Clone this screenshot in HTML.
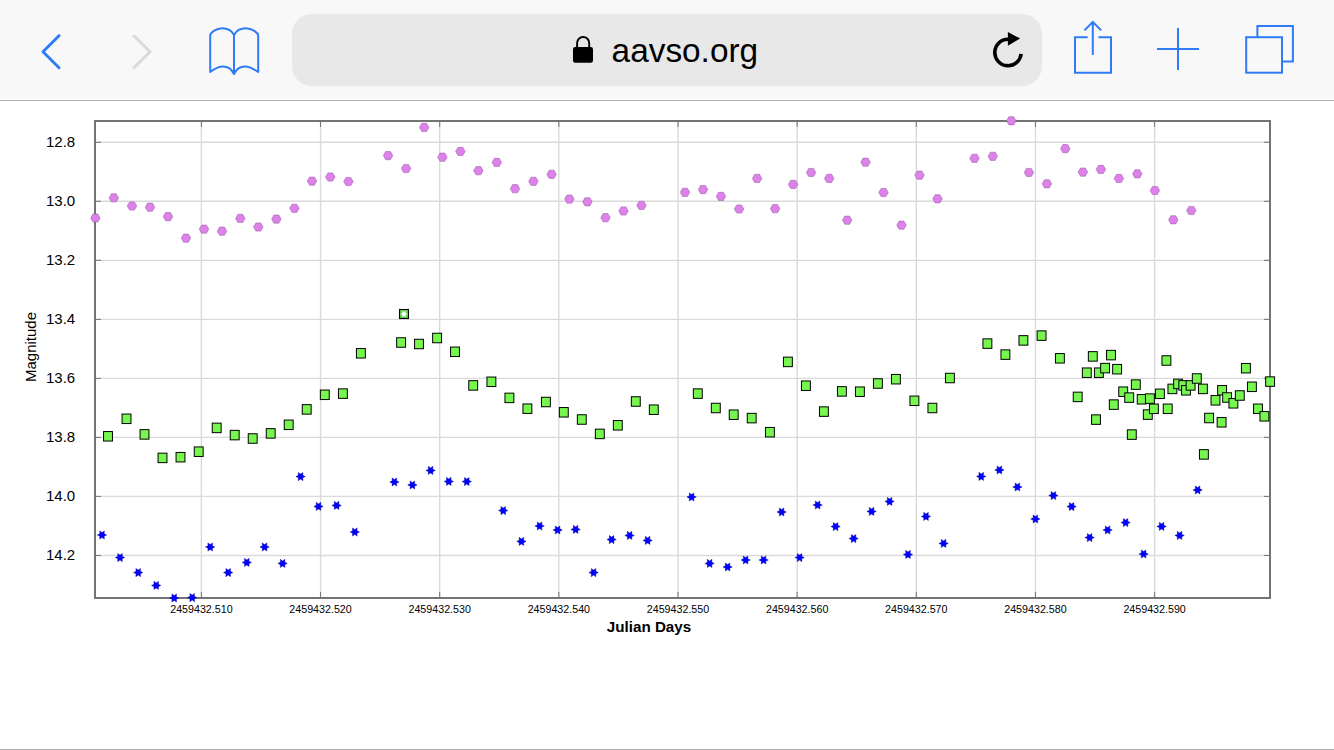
<!DOCTYPE html>
<html><head><meta charset="utf-8"><title>aavso.org</title>
<style>
html,body{margin:0;padding:0;width:1334px;height:750px;overflow:hidden;background:#fff;}
svg{position:absolute;left:0;top:0;display:block;}
text{font-family:"Liberation Sans",sans-serif;}
</style></head><body>
<svg width="1334" height="750" viewBox="0 0 1334 750">
<rect x="0" y="0" width="1334" height="99" fill="#f8f8f8"/>
<rect x="0" y="100" width="1334" height="1" fill="#b3b3b3"/>
<rect x="0" y="749" width="1334" height="1" fill="#adadad"/>
<polyline points="59,35.7 43,51.8 59,67.7" fill="none" stroke="#2f7cf6" stroke-width="3" stroke-linecap="round" stroke-linejoin="round"/>
<polyline points="134,36 150,51.8 134,67.7" fill="none" stroke="#dadada" stroke-width="3" stroke-linecap="round" stroke-linejoin="round"/>
<path d="M210.2,72 V35.5 C210.2,33 216,28.2 222,28.2 C228,28.2 232,31 234,35 C236,31 240,28.2 246,28.2 C252,28.2 258.2,33 258.2,35.5 V72 C254,69 250,66.4 245,66.4 C240,66.4 236,69.5 234,74 C232,69.5 228,66.4 223,66.4 C218,66.4 214,69 210.2,72 Z M234,35 V74" fill="none" stroke="#2f7cf6" stroke-width="2" stroke-linejoin="round" stroke-linecap="round"/>
<rect x="292" y="14" width="750" height="72" rx="20" ry="20" fill="#e8e8e9"/>
<path d="M577.1,47.5 V43 A6.05,6.05 0 0 1 589.2,43 V47.5" fill="none" stroke="#000" stroke-width="1.9"/>
<rect x="573" y="47.1" width="20" height="15.7" rx="2.2" fill="#000"/>
<text x="611.6" y="62.2" font-size="33.5" fill="#000" textLength="146.5" lengthAdjust="spacingAndGlyphs">aavso.org</text>
<path d="M1021.13,53.88 A13.2,13.2 0 1 1 1008,39.3" fill="none" stroke="#000" stroke-width="3.6"/>
<polygon points="1007.9,31.9 1020.1,38.6 1007.9,45.7" fill="#000"/>
<path d="M1087.7,37.2 H1075 V72.7 H1111 V37.2 H1098.4 M1092.8,22.5 V55 M1084.4,30.4 L1092.8,22 L1101.2,30.4" fill="none" stroke="#2f7cf6" stroke-width="2"/>
<path d="M1157,49 H1199 M1178,28 V70" fill="none" stroke="#2f7cf6" stroke-width="2"/>
<rect x="1246.2" y="37.2" width="35.8" height="35.5" fill="none" stroke="#2f7cf6" stroke-width="2"/>
<path d="M1257.4,37.2 V26 H1292.9 V61.5 H1283" fill="none" stroke="#2f7cf6" stroke-width="2"/>
<line x1="201.4" y1="122" x2="201.4" y2="597" stroke="#dadada" stroke-width="1.4"/>
<line x1="320.55" y1="122" x2="320.55" y2="597" stroke="#dadada" stroke-width="1.4"/>
<line x1="439.7" y1="122" x2="439.7" y2="597" stroke="#dadada" stroke-width="1.4"/>
<line x1="558.85" y1="122" x2="558.85" y2="597" stroke="#dadada" stroke-width="1.4"/>
<line x1="678" y1="122" x2="678" y2="597" stroke="#dadada" stroke-width="1.4"/>
<line x1="797.15" y1="122" x2="797.15" y2="597" stroke="#dadada" stroke-width="1.4"/>
<line x1="916.3" y1="122" x2="916.3" y2="597" stroke="#dadada" stroke-width="1.4"/>
<line x1="1035.45" y1="122" x2="1035.45" y2="597" stroke="#dadada" stroke-width="1.4"/>
<line x1="1154.6" y1="122" x2="1154.6" y2="597" stroke="#dadada" stroke-width="1.4"/>
<line x1="96" y1="142.3" x2="1269" y2="142.3" stroke="#dadada" stroke-width="1.4"/>
<line x1="96" y1="201.32" x2="1269" y2="201.32" stroke="#dadada" stroke-width="1.4"/>
<line x1="96" y1="260.34" x2="1269" y2="260.34" stroke="#dadada" stroke-width="1.4"/>
<line x1="96" y1="319.36" x2="1269" y2="319.36" stroke="#dadada" stroke-width="1.4"/>
<line x1="96" y1="378.38" x2="1269" y2="378.38" stroke="#dadada" stroke-width="1.4"/>
<line x1="96" y1="437.4" x2="1269" y2="437.4" stroke="#dadada" stroke-width="1.4"/>
<line x1="96" y1="496.42" x2="1269" y2="496.42" stroke="#dadada" stroke-width="1.4"/>
<line x1="96" y1="555.44" x2="1269" y2="555.44" stroke="#dadada" stroke-width="1.4"/>
<line x1="201.4" y1="122" x2="201.4" y2="127" stroke="#737373" stroke-width="1"/>
<line x1="201.4" y1="592" x2="201.4" y2="597" stroke="#737373" stroke-width="1"/>
<line x1="320.55" y1="122" x2="320.55" y2="127" stroke="#737373" stroke-width="1"/>
<line x1="320.55" y1="592" x2="320.55" y2="597" stroke="#737373" stroke-width="1"/>
<line x1="439.7" y1="122" x2="439.7" y2="127" stroke="#737373" stroke-width="1"/>
<line x1="439.7" y1="592" x2="439.7" y2="597" stroke="#737373" stroke-width="1"/>
<line x1="558.85" y1="122" x2="558.85" y2="127" stroke="#737373" stroke-width="1"/>
<line x1="558.85" y1="592" x2="558.85" y2="597" stroke="#737373" stroke-width="1"/>
<line x1="678" y1="122" x2="678" y2="127" stroke="#737373" stroke-width="1"/>
<line x1="678" y1="592" x2="678" y2="597" stroke="#737373" stroke-width="1"/>
<line x1="797.15" y1="122" x2="797.15" y2="127" stroke="#737373" stroke-width="1"/>
<line x1="797.15" y1="592" x2="797.15" y2="597" stroke="#737373" stroke-width="1"/>
<line x1="916.3" y1="122" x2="916.3" y2="127" stroke="#737373" stroke-width="1"/>
<line x1="916.3" y1="592" x2="916.3" y2="597" stroke="#737373" stroke-width="1"/>
<line x1="1035.45" y1="122" x2="1035.45" y2="127" stroke="#737373" stroke-width="1"/>
<line x1="1035.45" y1="592" x2="1035.45" y2="597" stroke="#737373" stroke-width="1"/>
<line x1="1154.6" y1="122" x2="1154.6" y2="127" stroke="#737373" stroke-width="1"/>
<line x1="1154.6" y1="592" x2="1154.6" y2="597" stroke="#737373" stroke-width="1"/>
<line x1="96" y1="142.3" x2="101" y2="142.3" stroke="#737373" stroke-width="1"/>
<line x1="1264" y1="142.3" x2="1269" y2="142.3" stroke="#737373" stroke-width="1"/>
<line x1="96" y1="201.32" x2="101" y2="201.32" stroke="#737373" stroke-width="1"/>
<line x1="1264" y1="201.32" x2="1269" y2="201.32" stroke="#737373" stroke-width="1"/>
<line x1="96" y1="260.34" x2="101" y2="260.34" stroke="#737373" stroke-width="1"/>
<line x1="1264" y1="260.34" x2="1269" y2="260.34" stroke="#737373" stroke-width="1"/>
<line x1="96" y1="319.36" x2="101" y2="319.36" stroke="#737373" stroke-width="1"/>
<line x1="1264" y1="319.36" x2="1269" y2="319.36" stroke="#737373" stroke-width="1"/>
<line x1="96" y1="378.38" x2="101" y2="378.38" stroke="#737373" stroke-width="1"/>
<line x1="1264" y1="378.38" x2="1269" y2="378.38" stroke="#737373" stroke-width="1"/>
<line x1="96" y1="437.4" x2="101" y2="437.4" stroke="#737373" stroke-width="1"/>
<line x1="1264" y1="437.4" x2="1269" y2="437.4" stroke="#737373" stroke-width="1"/>
<line x1="96" y1="496.42" x2="101" y2="496.42" stroke="#737373" stroke-width="1"/>
<line x1="1264" y1="496.42" x2="1269" y2="496.42" stroke="#737373" stroke-width="1"/>
<line x1="96" y1="555.44" x2="101" y2="555.44" stroke="#737373" stroke-width="1"/>
<line x1="1264" y1="555.44" x2="1269" y2="555.44" stroke="#737373" stroke-width="1"/>
<rect x="95" y="121" width="1175" height="477" fill="none" stroke="#737373" stroke-width="2"/>
<text x="75.2" y="147.1" font-size="15" text-anchor="end" fill="#000">12.8</text>
<text x="75.2" y="206.12" font-size="15" text-anchor="end" fill="#000">13.0</text>
<text x="75.2" y="265.14" font-size="15" text-anchor="end" fill="#000">13.2</text>
<text x="75.2" y="324.16" font-size="15" text-anchor="end" fill="#000">13.4</text>
<text x="75.2" y="383.18" font-size="15" text-anchor="end" fill="#000">13.6</text>
<text x="75.2" y="442.2" font-size="15" text-anchor="end" fill="#000">13.8</text>
<text x="75.2" y="501.22" font-size="15" text-anchor="end" fill="#000">14.0</text>
<text x="75.2" y="560.24" font-size="15" text-anchor="end" fill="#000">14.2</text>
<text x="201.4" y="613" font-size="10.7" text-anchor="middle" fill="#000">2459432.510</text>
<text x="320.55" y="613" font-size="10.7" text-anchor="middle" fill="#000">2459432.520</text>
<text x="439.7" y="613" font-size="10.7" text-anchor="middle" fill="#000">2459432.530</text>
<text x="558.85" y="613" font-size="10.7" text-anchor="middle" fill="#000">2459432.540</text>
<text x="678" y="613" font-size="10.7" text-anchor="middle" fill="#000">2459432.550</text>
<text x="797.15" y="613" font-size="10.7" text-anchor="middle" fill="#000">2459432.560</text>
<text x="916.3" y="613" font-size="10.7" text-anchor="middle" fill="#000">2459432.570</text>
<text x="1035.45" y="613" font-size="10.7" text-anchor="middle" fill="#000">2459432.580</text>
<text x="1154.6" y="613" font-size="10.7" text-anchor="middle" fill="#000">2459432.590</text>
<text transform="translate(36,347) rotate(-90)" font-size="15" text-anchor="middle" fill="#000">Magnitude</text>
<text x="649" y="632" font-size="15.2" font-weight="bold" text-anchor="middle" fill="#000">Julian Days</text>
<polygon points="100.15,218 97.78,222.11 93.03,222.11 90.65,218 93.03,213.89 97.78,213.89" fill="#dd82e9" stroke="#9050a0" stroke-width="0.5"/>
<polygon points="118.55,197.9 116.17,202.01 111.42,202.01 109.05,197.9 111.42,193.79 116.17,193.79" fill="#dd82e9" stroke="#9050a0" stroke-width="0.5"/>
<polygon points="136.75,206 134.38,210.11 129.62,210.11 127.25,206 129.62,201.89 134.38,201.89" fill="#dd82e9" stroke="#9050a0" stroke-width="0.5"/>
<polygon points="154.75,207.2 152.38,211.31 147.62,211.31 145.25,207.2 147.62,203.09 152.38,203.09" fill="#dd82e9" stroke="#9050a0" stroke-width="0.5"/>
<polygon points="172.75,216.6 170.38,220.71 165.62,220.71 163.25,216.6 165.62,212.49 170.38,212.49" fill="#dd82e9" stroke="#9050a0" stroke-width="0.5"/>
<polygon points="190.75,238.2 188.38,242.31 183.62,242.31 181.25,238.2 183.62,234.09 188.38,234.09" fill="#dd82e9" stroke="#9050a0" stroke-width="0.5"/>
<polygon points="208.75,229.2 206.38,233.31 201.62,233.31 199.25,229.2 201.62,225.09 206.38,225.09" fill="#dd82e9" stroke="#9050a0" stroke-width="0.5"/>
<polygon points="226.75,231.2 224.38,235.31 219.62,235.31 217.25,231.2 219.62,227.09 224.38,227.09" fill="#dd82e9" stroke="#9050a0" stroke-width="0.5"/>
<polygon points="245.05,218.4 242.68,222.51 237.93,222.51 235.55,218.4 237.93,214.29 242.68,214.29" fill="#dd82e9" stroke="#9050a0" stroke-width="0.5"/>
<polygon points="263.05,227 260.68,231.11 255.93,231.11 253.55,227 255.93,222.89 260.68,222.89" fill="#dd82e9" stroke="#9050a0" stroke-width="0.5"/>
<polygon points="281.15,219.1 278.77,223.21 274.02,223.21 271.65,219.1 274.02,214.99 278.77,214.99" fill="#dd82e9" stroke="#9050a0" stroke-width="0.5"/>
<polygon points="299.15,208.3 296.77,212.41 292.02,212.41 289.65,208.3 292.02,204.19 296.77,204.19" fill="#dd82e9" stroke="#9050a0" stroke-width="0.5"/>
<polygon points="316.75,181.1 314.38,185.21 309.62,185.21 307.25,181.1 309.62,176.99 314.38,176.99" fill="#dd82e9" stroke="#9050a0" stroke-width="0.5"/>
<polygon points="335.05,177 332.68,181.11 327.93,181.11 325.55,177 327.93,172.89 332.68,172.89" fill="#dd82e9" stroke="#9050a0" stroke-width="0.5"/>
<polygon points="353.15,181.5 350.77,185.61 346.02,185.61 343.65,181.5 346.02,177.39 350.77,177.39" fill="#dd82e9" stroke="#9050a0" stroke-width="0.5"/>
<polygon points="392.85,155.6 390.48,159.71 385.73,159.71 383.35,155.6 385.73,151.49 390.48,151.49" fill="#dd82e9" stroke="#9050a0" stroke-width="0.5"/>
<polygon points="410.85,168.5 408.48,172.61 403.73,172.61 401.35,168.5 403.73,164.39 408.48,164.39" fill="#dd82e9" stroke="#9050a0" stroke-width="0.5"/>
<polygon points="428.95,127.4 426.57,131.51 421.82,131.51 419.45,127.4 421.82,123.29 426.57,123.29" fill="#dd82e9" stroke="#9050a0" stroke-width="0.5"/>
<polygon points="447.15,157.2 444.77,161.31 440.02,161.31 437.65,157.2 440.02,153.09 444.77,153.09" fill="#dd82e9" stroke="#9050a0" stroke-width="0.5"/>
<polygon points="465.15,151.4 462.77,155.51 458.02,155.51 455.65,151.4 458.02,147.29 462.77,147.29" fill="#dd82e9" stroke="#9050a0" stroke-width="0.5"/>
<polygon points="483.15,170.7 480.77,174.81 476.02,174.81 473.65,170.7 476.02,166.59 480.77,166.59" fill="#dd82e9" stroke="#9050a0" stroke-width="0.5"/>
<polygon points="501.55,162.4 499.18,166.51 494.43,166.51 492.05,162.4 494.43,158.29 499.18,158.29" fill="#dd82e9" stroke="#9050a0" stroke-width="0.5"/>
<polygon points="519.75,188.7 517.38,192.81 512.62,192.81 510.25,188.7 512.62,184.59 517.38,184.59" fill="#dd82e9" stroke="#9050a0" stroke-width="0.5"/>
<polygon points="538.15,181.3 535.77,185.41 531.02,185.41 528.65,181.3 531.02,177.19 535.77,177.19" fill="#dd82e9" stroke="#9050a0" stroke-width="0.5"/>
<polygon points="556.35,174.3 553.98,178.41 549.23,178.41 546.85,174.3 549.23,170.19 553.98,170.19" fill="#dd82e9" stroke="#9050a0" stroke-width="0.5"/>
<polygon points="574.15,199.1 571.77,203.21 567.02,203.21 564.65,199.1 567.02,194.99 571.77,194.99" fill="#dd82e9" stroke="#9050a0" stroke-width="0.5"/>
<polygon points="592.15,201.8 589.77,205.91 585.02,205.91 582.65,201.8 585.02,197.69 589.77,197.69" fill="#dd82e9" stroke="#9050a0" stroke-width="0.5"/>
<polygon points="610.25,217.7 607.88,221.81 603.12,221.81 600.75,217.7 603.12,213.59 607.88,213.59" fill="#dd82e9" stroke="#9050a0" stroke-width="0.5"/>
<polygon points="628.25,211 625.88,215.11 621.12,215.11 618.75,211 621.12,206.89 625.88,206.89" fill="#dd82e9" stroke="#9050a0" stroke-width="0.5"/>
<polygon points="646.25,205.4 643.88,209.51 639.12,209.51 636.75,205.4 639.12,201.29 643.88,201.29" fill="#dd82e9" stroke="#9050a0" stroke-width="0.5"/>
<polygon points="689.75,192.3 687.38,196.41 682.62,196.41 680.25,192.3 682.62,188.19 687.38,188.19" fill="#dd82e9" stroke="#9050a0" stroke-width="0.5"/>
<polygon points="707.75,189.6 705.38,193.71 700.62,193.71 698.25,189.6 700.62,185.49 705.38,185.49" fill="#dd82e9" stroke="#9050a0" stroke-width="0.5"/>
<polygon points="725.75,196.4 723.38,200.51 718.62,200.51 716.25,196.4 718.62,192.29 723.38,192.29" fill="#dd82e9" stroke="#9050a0" stroke-width="0.5"/>
<polygon points="743.85,209 741.48,213.11 736.73,213.11 734.35,209 736.73,204.89 741.48,204.89" fill="#dd82e9" stroke="#9050a0" stroke-width="0.5"/>
<polygon points="761.85,178.4 759.48,182.51 754.73,182.51 752.35,178.4 754.73,174.29 759.48,174.29" fill="#dd82e9" stroke="#9050a0" stroke-width="0.5"/>
<polygon points="779.85,208.7 777.48,212.81 772.73,212.81 770.35,208.7 772.73,204.59 777.48,204.59" fill="#dd82e9" stroke="#9050a0" stroke-width="0.5"/>
<polygon points="797.85,184.4 795.48,188.51 790.73,188.51 788.35,184.4 790.73,180.29 795.48,180.29" fill="#dd82e9" stroke="#9050a0" stroke-width="0.5"/>
<polygon points="815.85,172.5 813.48,176.61 808.73,176.61 806.35,172.5 808.73,168.39 813.48,168.39" fill="#dd82e9" stroke="#9050a0" stroke-width="0.5"/>
<polygon points="833.95,178.4 831.58,182.51 826.83,182.51 824.45,178.4 826.83,174.29 831.58,174.29" fill="#dd82e9" stroke="#9050a0" stroke-width="0.5"/>
<polygon points="851.95,220.2 849.58,224.31 844.83,224.31 842.45,220.2 844.83,216.09 849.58,216.09" fill="#dd82e9" stroke="#9050a0" stroke-width="0.5"/>
<polygon points="870.25,162.2 867.88,166.31 863.12,166.31 860.75,162.2 863.12,158.09 867.88,158.09" fill="#dd82e9" stroke="#9050a0" stroke-width="0.5"/>
<polygon points="888.25,192.5 885.88,196.61 881.12,196.61 878.75,192.5 881.12,188.39 885.88,188.39" fill="#dd82e9" stroke="#9050a0" stroke-width="0.5"/>
<polygon points="906.25,225.2 903.88,229.31 899.12,229.31 896.75,225.2 899.12,221.09 903.88,221.09" fill="#dd82e9" stroke="#9050a0" stroke-width="0.5"/>
<polygon points="924.25,175.2 921.88,179.31 917.12,179.31 914.75,175.2 917.12,171.09 921.88,171.09" fill="#dd82e9" stroke="#9050a0" stroke-width="0.5"/>
<polygon points="942.25,198.8 939.88,202.91 935.12,202.91 932.75,198.8 935.12,194.69 939.88,194.69" fill="#dd82e9" stroke="#9050a0" stroke-width="0.5"/>
<polygon points="979.25,158.3 976.88,162.41 972.12,162.41 969.75,158.3 972.12,154.19 976.88,154.19" fill="#dd82e9" stroke="#9050a0" stroke-width="0.5"/>
<polygon points="997.55,156.3 995.17,160.41 990.42,160.41 988.05,156.3 990.42,152.19 995.17,152.19" fill="#dd82e9" stroke="#9050a0" stroke-width="0.5"/>
<polygon points="1016.05,120.8 1013.67,124.91 1008.92,124.91 1006.55,120.8 1008.92,116.69 1013.67,116.69" fill="#dd82e9" stroke="#9050a0" stroke-width="0.5"/>
<polygon points="1033.65,172.5 1031.28,176.61 1026.53,176.61 1024.15,172.5 1026.53,168.39 1031.28,168.39" fill="#dd82e9" stroke="#9050a0" stroke-width="0.5"/>
<polygon points="1051.65,183.8 1049.28,187.91 1044.53,187.91 1042.15,183.8 1044.53,179.69 1049.28,179.69" fill="#dd82e9" stroke="#9050a0" stroke-width="0.5"/>
<polygon points="1070.05,148.7 1067.67,152.81 1062.92,152.81 1060.55,148.7 1062.92,144.59 1067.67,144.59" fill="#dd82e9" stroke="#9050a0" stroke-width="0.5"/>
<polygon points="1087.65,172.1 1085.28,176.21 1080.53,176.21 1078.15,172.1 1080.53,167.99 1085.28,167.99" fill="#dd82e9" stroke="#9050a0" stroke-width="0.5"/>
<polygon points="1105.65,169.4 1103.28,173.51 1098.53,173.51 1096.15,169.4 1098.53,165.29 1103.28,165.29" fill="#dd82e9" stroke="#9050a0" stroke-width="0.5"/>
<polygon points="1123.65,178.4 1121.28,182.51 1116.53,182.51 1114.15,178.4 1116.53,174.29 1121.28,174.29" fill="#dd82e9" stroke="#9050a0" stroke-width="0.5"/>
<polygon points="1142.05,173.9 1139.67,178.01 1134.92,178.01 1132.55,173.9 1134.92,169.79 1139.67,169.79" fill="#dd82e9" stroke="#9050a0" stroke-width="0.5"/>
<polygon points="1159.65,190.5 1157.28,194.61 1152.53,194.61 1150.15,190.5 1152.53,186.39 1157.28,186.39" fill="#dd82e9" stroke="#9050a0" stroke-width="0.5"/>
<polygon points="1178.05,219.8 1175.67,223.91 1170.92,223.91 1168.55,219.8 1170.92,215.69 1175.67,215.69" fill="#dd82e9" stroke="#9050a0" stroke-width="0.5"/>
<polygon points="1196.05,210.5 1193.67,214.61 1188.92,214.61 1186.55,210.5 1188.92,206.39 1193.67,206.39" fill="#dd82e9" stroke="#9050a0" stroke-width="0.5"/>
<rect x="103.55" y="431.55" width="8.9" height="9.5" fill="#76f64e" stroke="#000" stroke-width="1"/>
<rect x="122.05" y="414.05" width="8.9" height="9.5" fill="#76f64e" stroke="#000" stroke-width="1"/>
<rect x="140.05" y="429.65" width="8.9" height="9.5" fill="#76f64e" stroke="#000" stroke-width="1"/>
<rect x="158.05" y="453.15" width="8.9" height="9.5" fill="#76f64e" stroke="#000" stroke-width="1"/>
<rect x="176.05" y="452.45" width="8.9" height="9.5" fill="#76f64e" stroke="#000" stroke-width="1"/>
<rect x="194.25" y="446.95" width="8.9" height="9.5" fill="#76f64e" stroke="#000" stroke-width="1"/>
<rect x="212.25" y="423.15" width="8.9" height="9.5" fill="#76f64e" stroke="#000" stroke-width="1"/>
<rect x="230.25" y="430.35" width="8.9" height="9.5" fill="#76f64e" stroke="#000" stroke-width="1"/>
<rect x="248.25" y="433.75" width="8.9" height="9.5" fill="#76f64e" stroke="#000" stroke-width="1"/>
<rect x="266.25" y="428.65" width="8.9" height="9.5" fill="#76f64e" stroke="#000" stroke-width="1"/>
<rect x="284.25" y="420.05" width="8.9" height="9.5" fill="#76f64e" stroke="#000" stroke-width="1"/>
<rect x="302.25" y="404.65" width="8.9" height="9.5" fill="#76f64e" stroke="#000" stroke-width="1"/>
<rect x="320.35" y="390.05" width="8.9" height="9.5" fill="#76f64e" stroke="#000" stroke-width="1"/>
<rect x="338.45" y="388.85" width="8.9" height="9.5" fill="#76f64e" stroke="#000" stroke-width="1"/>
<rect x="356.45" y="348.55" width="8.9" height="9.5" fill="#76f64e" stroke="#000" stroke-width="1"/>
<rect x="396.65" y="337.75" width="8.9" height="9.5" fill="#76f64e" stroke="#000" stroke-width="1"/>
<rect x="414.55" y="339.25" width="8.9" height="9.5" fill="#76f64e" stroke="#000" stroke-width="1"/>
<rect x="432.65" y="333.25" width="8.9" height="9.5" fill="#76f64e" stroke="#000" stroke-width="1"/>
<rect x="450.55" y="347.05" width="8.9" height="9.5" fill="#76f64e" stroke="#000" stroke-width="1"/>
<rect x="468.75" y="380.65" width="8.9" height="9.5" fill="#76f64e" stroke="#000" stroke-width="1"/>
<rect x="486.95" y="377.05" width="8.9" height="9.5" fill="#76f64e" stroke="#000" stroke-width="1"/>
<rect x="504.95" y="393.15" width="8.9" height="9.5" fill="#76f64e" stroke="#000" stroke-width="1"/>
<rect x="522.95" y="403.95" width="8.9" height="9.5" fill="#76f64e" stroke="#000" stroke-width="1"/>
<rect x="541.45" y="397.25" width="8.9" height="9.5" fill="#76f64e" stroke="#000" stroke-width="1"/>
<rect x="559.35" y="407.55" width="8.9" height="9.5" fill="#76f64e" stroke="#000" stroke-width="1"/>
<rect x="577.35" y="414.75" width="8.9" height="9.5" fill="#76f64e" stroke="#000" stroke-width="1"/>
<rect x="595.35" y="429.15" width="8.9" height="9.5" fill="#76f64e" stroke="#000" stroke-width="1"/>
<rect x="613.35" y="420.55" width="8.9" height="9.5" fill="#76f64e" stroke="#000" stroke-width="1"/>
<rect x="631.35" y="396.75" width="8.9" height="9.5" fill="#76f64e" stroke="#000" stroke-width="1"/>
<rect x="649.35" y="404.95" width="8.9" height="9.5" fill="#76f64e" stroke="#000" stroke-width="1"/>
<rect x="693.35" y="388.85" width="8.9" height="9.5" fill="#76f64e" stroke="#000" stroke-width="1"/>
<rect x="711.35" y="403.25" width="8.9" height="9.5" fill="#76f64e" stroke="#000" stroke-width="1"/>
<rect x="729.25" y="409.95" width="8.9" height="9.5" fill="#76f64e" stroke="#000" stroke-width="1"/>
<rect x="747.25" y="413.35" width="8.9" height="9.5" fill="#76f64e" stroke="#000" stroke-width="1"/>
<rect x="765.45" y="427.45" width="8.9" height="9.5" fill="#76f64e" stroke="#000" stroke-width="1"/>
<rect x="783.45" y="357.15" width="8.9" height="9.5" fill="#76f64e" stroke="#000" stroke-width="1"/>
<rect x="801.45" y="380.95" width="8.9" height="9.5" fill="#76f64e" stroke="#000" stroke-width="1"/>
<rect x="819.45" y="406.85" width="8.9" height="9.5" fill="#76f64e" stroke="#000" stroke-width="1"/>
<rect x="837.45" y="386.65" width="8.9" height="9.5" fill="#76f64e" stroke="#000" stroke-width="1"/>
<rect x="855.45" y="386.95" width="8.9" height="9.5" fill="#76f64e" stroke="#000" stroke-width="1"/>
<rect x="873.45" y="378.75" width="8.9" height="9.5" fill="#76f64e" stroke="#000" stroke-width="1"/>
<rect x="891.45" y="374.45" width="8.9" height="9.5" fill="#76f64e" stroke="#000" stroke-width="1"/>
<rect x="909.95" y="396.05" width="8.9" height="9.5" fill="#76f64e" stroke="#000" stroke-width="1"/>
<rect x="927.95" y="403.25" width="8.9" height="9.5" fill="#76f64e" stroke="#000" stroke-width="1"/>
<rect x="945.45" y="373.25" width="8.9" height="9.5" fill="#76f64e" stroke="#000" stroke-width="1"/>
<rect x="982.95" y="338.85" width="8.9" height="9.5" fill="#76f64e" stroke="#000" stroke-width="1"/>
<rect x="1000.95" y="349.85" width="8.9" height="9.5" fill="#76f64e" stroke="#000" stroke-width="1"/>
<rect x="1018.95" y="335.65" width="8.9" height="9.5" fill="#76f64e" stroke="#000" stroke-width="1"/>
<rect x="1037.15" y="330.85" width="8.9" height="9.5" fill="#76f64e" stroke="#000" stroke-width="1"/>
<rect x="1055.45" y="353.55" width="8.9" height="9.5" fill="#76f64e" stroke="#000" stroke-width="1"/>
<rect x="1073.25" y="392.15" width="8.9" height="9.5" fill="#76f64e" stroke="#000" stroke-width="1"/>
<rect x="1082.35" y="367.95" width="8.9" height="9.5" fill="#76f64e" stroke="#000" stroke-width="1"/>
<rect x="1088.35" y="351.65" width="8.9" height="9.5" fill="#76f64e" stroke="#000" stroke-width="1"/>
<rect x="1091.55" y="414.85" width="8.9" height="9.5" fill="#76f64e" stroke="#000" stroke-width="1"/>
<rect x="1094.45" y="367.95" width="8.9" height="9.5" fill="#76f64e" stroke="#000" stroke-width="1"/>
<rect x="1100.65" y="363.35" width="8.9" height="9.5" fill="#76f64e" stroke="#000" stroke-width="1"/>
<rect x="1106.55" y="350.35" width="8.9" height="9.5" fill="#76f64e" stroke="#000" stroke-width="1"/>
<rect x="1109.35" y="399.85" width="8.9" height="9.5" fill="#76f64e" stroke="#000" stroke-width="1"/>
<rect x="1112.65" y="364.45" width="8.9" height="9.5" fill="#76f64e" stroke="#000" stroke-width="1"/>
<rect x="1118.75" y="386.95" width="8.9" height="9.5" fill="#76f64e" stroke="#000" stroke-width="1"/>
<rect x="1124.75" y="392.85" width="8.9" height="9.5" fill="#76f64e" stroke="#000" stroke-width="1"/>
<rect x="1127.35" y="429.85" width="8.9" height="9.5" fill="#76f64e" stroke="#000" stroke-width="1"/>
<rect x="1131.35" y="379.85" width="8.9" height="9.5" fill="#76f64e" stroke="#000" stroke-width="1"/>
<rect x="1137.25" y="394.55" width="8.9" height="9.5" fill="#76f64e" stroke="#000" stroke-width="1"/>
<rect x="1143.35" y="409.85" width="8.9" height="9.5" fill="#76f64e" stroke="#000" stroke-width="1"/>
<rect x="1145.45" y="393.85" width="8.9" height="9.5" fill="#76f64e" stroke="#000" stroke-width="1"/>
<rect x="1149.45" y="404.05" width="8.9" height="9.5" fill="#76f64e" stroke="#000" stroke-width="1"/>
<rect x="1155.45" y="389.05" width="8.9" height="9.5" fill="#76f64e" stroke="#000" stroke-width="1"/>
<rect x="1161.95" y="355.75" width="8.9" height="9.5" fill="#76f64e" stroke="#000" stroke-width="1"/>
<rect x="1163.25" y="404.05" width="8.9" height="9.5" fill="#76f64e" stroke="#000" stroke-width="1"/>
<rect x="1167.95" y="384.15" width="8.9" height="9.5" fill="#76f64e" stroke="#000" stroke-width="1"/>
<rect x="1173.65" y="379.15" width="8.9" height="9.5" fill="#76f64e" stroke="#000" stroke-width="1"/>
<rect x="1178.85" y="380.65" width="8.9" height="9.5" fill="#76f64e" stroke="#000" stroke-width="1"/>
<rect x="1181.55" y="385.55" width="8.9" height="9.5" fill="#76f64e" stroke="#000" stroke-width="1"/>
<rect x="1186.15" y="380.65" width="8.9" height="9.5" fill="#76f64e" stroke="#000" stroke-width="1"/>
<rect x="1192.35" y="373.75" width="8.9" height="9.5" fill="#76f64e" stroke="#000" stroke-width="1"/>
<rect x="1198.45" y="384.15" width="8.9" height="9.5" fill="#76f64e" stroke="#000" stroke-width="1"/>
<rect x="1199.45" y="449.65" width="8.9" height="9.5" fill="#76f64e" stroke="#000" stroke-width="1"/>
<rect x="1204.65" y="413.25" width="8.9" height="9.5" fill="#76f64e" stroke="#000" stroke-width="1"/>
<rect x="1211.05" y="395.55" width="8.9" height="9.5" fill="#76f64e" stroke="#000" stroke-width="1"/>
<rect x="1217.15" y="417.55" width="8.9" height="9.5" fill="#76f64e" stroke="#000" stroke-width="1"/>
<rect x="1217.65" y="385.55" width="8.9" height="9.5" fill="#76f64e" stroke="#000" stroke-width="1"/>
<rect x="1222.65" y="392.75" width="8.9" height="9.5" fill="#76f64e" stroke="#000" stroke-width="1"/>
<rect x="1228.95" y="398.55" width="8.9" height="9.5" fill="#76f64e" stroke="#000" stroke-width="1"/>
<rect x="1235.35" y="390.75" width="8.9" height="9.5" fill="#76f64e" stroke="#000" stroke-width="1"/>
<rect x="1241.45" y="363.45" width="8.9" height="9.5" fill="#76f64e" stroke="#000" stroke-width="1"/>
<rect x="1247.45" y="382.05" width="8.9" height="9.5" fill="#76f64e" stroke="#000" stroke-width="1"/>
<rect x="1253.55" y="404.05" width="8.9" height="9.5" fill="#76f64e" stroke="#000" stroke-width="1"/>
<rect x="1259.95" y="411.55" width="8.9" height="9.5" fill="#76f64e" stroke="#000" stroke-width="1"/>
<rect x="1265.65" y="376.85" width="8.9" height="9.5" fill="#76f64e" stroke="#000" stroke-width="1"/>
<rect x="399.5" y="309.5" width="9" height="9" fill="#5ad040" stroke="#000" stroke-width="1.1"/>
<polygon points="407.7,314 405.65,314.95 405.85,317.2 404,315.9 402.15,317.2 402.35,314.95 400.3,314 402.35,313.05 402.15,310.8 404,312.1 405.85,310.8 405.65,313.05" fill="#fff"/>
<polygon points="106.7,535 104.17,536.25 104.35,539.07 102,537.5 99.65,539.07 99.83,536.25 97.3,535 99.83,533.75 99.65,530.93 102,532.5 104.35,530.93 104.17,533.75" fill="#0000ff" stroke="#000090" stroke-width="0.4"/>
<polygon points="124.7,557.6 122.17,558.85 122.35,561.67 120,560.1 117.65,561.67 117.83,558.85 115.3,557.6 117.83,556.35 117.65,553.53 120,555.1 122.35,553.53 122.17,556.35" fill="#0000ff" stroke="#000090" stroke-width="0.4"/>
<polygon points="142.9,572.6 140.37,573.85 140.55,576.67 138.2,575.1 135.85,576.67 136.03,573.85 133.5,572.6 136.03,571.35 135.85,568.53 138.2,570.1 140.55,568.53 140.37,571.35" fill="#0000ff" stroke="#000090" stroke-width="0.4"/>
<polygon points="160.9,585.4 158.37,586.65 158.55,589.47 156.2,587.9 153.85,589.47 154.03,586.65 151.5,585.4 154.03,584.15 153.85,581.33 156.2,582.9 158.55,581.33 158.37,584.15" fill="#0000ff" stroke="#000090" stroke-width="0.4"/>
<polygon points="178.9,598 176.37,599.25 176.55,602.07 174.2,600.5 171.85,602.07 172.03,599.25 169.5,598 172.03,596.75 171.85,593.93 174.2,595.5 176.55,593.93 176.37,596.75" fill="#0000ff" stroke="#000090" stroke-width="0.4"/>
<polygon points="196.9,597.6 194.37,598.85 194.55,601.67 192.2,600.1 189.85,601.67 190.03,598.85 187.5,597.6 190.03,596.35 189.85,593.53 192.2,595.1 194.55,593.53 194.37,596.35" fill="#0000ff" stroke="#000090" stroke-width="0.4"/>
<polygon points="214.9,547 212.37,548.25 212.55,551.07 210.2,549.5 207.85,551.07 208.03,548.25 205.5,547 208.03,545.75 207.85,542.93 210.2,544.5 212.55,542.93 212.37,545.75" fill="#0000ff" stroke="#000090" stroke-width="0.4"/>
<polygon points="232.9,572.6 230.37,573.85 230.55,576.67 228.2,575.1 225.85,576.67 226.03,573.85 223.5,572.6 226.03,571.35 225.85,568.53 228.2,570.1 230.55,568.53 230.37,571.35" fill="#0000ff" stroke="#000090" stroke-width="0.4"/>
<polygon points="251.5,562.4 248.97,563.65 249.15,566.47 246.8,564.9 244.45,566.47 244.63,563.65 242.1,562.4 244.63,561.15 244.45,558.33 246.8,559.9 249.15,558.33 248.97,561.15" fill="#0000ff" stroke="#000090" stroke-width="0.4"/>
<polygon points="269.3,547 266.77,548.25 266.95,551.07 264.6,549.5 262.25,551.07 262.43,548.25 259.9,547 262.43,545.75 262.25,542.93 264.6,544.5 266.95,542.93 266.77,545.75" fill="#0000ff" stroke="#000090" stroke-width="0.4"/>
<polygon points="287.3,563.4 284.77,564.65 284.95,567.47 282.6,565.9 280.25,567.47 280.43,564.65 277.9,563.4 280.43,562.15 280.25,559.33 282.6,560.9 284.95,559.33 284.77,562.15" fill="#0000ff" stroke="#000090" stroke-width="0.4"/>
<polygon points="305.3,476.6 302.77,477.85 302.95,480.67 300.6,479.1 298.25,480.67 298.43,477.85 295.9,476.6 298.43,475.35 298.25,472.53 300.6,474.1 302.95,472.53 302.77,475.35" fill="#0000ff" stroke="#000090" stroke-width="0.4"/>
<polygon points="323.2,506.4 320.67,507.65 320.85,510.47 318.5,508.9 316.15,510.47 316.33,507.65 313.8,506.4 316.33,505.15 316.15,502.33 318.5,503.9 320.85,502.33 320.67,505.15" fill="#0000ff" stroke="#000090" stroke-width="0.4"/>
<polygon points="341.3,505.4 338.77,506.65 338.95,509.47 336.6,507.9 334.25,509.47 334.43,506.65 331.9,505.4 334.43,504.15 334.25,501.33 336.6,502.9 338.95,501.33 338.77,504.15" fill="#0000ff" stroke="#000090" stroke-width="0.4"/>
<polygon points="359.5,532 356.97,533.25 357.15,536.07 354.8,534.5 352.45,536.07 352.63,533.25 350.1,532 352.63,530.75 352.45,527.93 354.8,529.5 357.15,527.93 356.97,530.75" fill="#0000ff" stroke="#000090" stroke-width="0.4"/>
<polygon points="399.1,482 396.57,483.25 396.75,486.07 394.4,484.5 392.05,486.07 392.23,483.25 389.7,482 392.23,480.75 392.05,477.93 394.4,479.5 396.75,477.93 396.57,480.75" fill="#0000ff" stroke="#000090" stroke-width="0.4"/>
<polygon points="417.1,485 414.57,486.25 414.75,489.07 412.4,487.5 410.05,489.07 410.23,486.25 407.7,485 410.23,483.75 410.05,480.93 412.4,482.5 414.75,480.93 414.57,483.75" fill="#0000ff" stroke="#000090" stroke-width="0.4"/>
<polygon points="435.3,470.4 432.77,471.65 432.95,474.47 430.6,472.9 428.25,474.47 428.43,471.65 425.9,470.4 428.43,469.15 428.25,466.33 430.6,467.9 432.95,466.33 432.77,469.15" fill="#0000ff" stroke="#000090" stroke-width="0.4"/>
<polygon points="453.5,481.4 450.97,482.65 451.15,485.47 448.8,483.9 446.45,485.47 446.63,482.65 444.1,481.4 446.63,480.15 446.45,477.33 448.8,478.9 451.15,477.33 450.97,480.15" fill="#0000ff" stroke="#000090" stroke-width="0.4"/>
<polygon points="471.5,481.6 468.97,482.85 469.15,485.67 466.8,484.1 464.45,485.67 464.63,482.85 462.1,481.6 464.63,480.35 464.45,477.53 466.8,479.1 469.15,477.53 468.97,480.35" fill="#0000ff" stroke="#000090" stroke-width="0.4"/>
<polygon points="507.9,510.6 505.37,511.85 505.55,514.67 503.2,513.1 500.85,514.67 501.03,511.85 498.5,510.6 501.03,509.35 500.85,506.53 503.2,508.1 505.55,506.53 505.37,509.35" fill="#0000ff" stroke="#000090" stroke-width="0.4"/>
<polygon points="526.1,541.4 523.57,542.65 523.75,545.47 521.4,543.9 519.05,545.47 519.23,542.65 516.7,541.4 519.23,540.15 519.05,537.33 521.4,538.9 523.75,537.33 523.57,540.15" fill="#0000ff" stroke="#000090" stroke-width="0.4"/>
<polygon points="544.3,526 541.77,527.25 541.95,530.07 539.6,528.5 537.25,530.07 537.43,527.25 534.9,526 537.43,524.75 537.25,521.93 539.6,523.5 541.95,521.93 541.77,524.75" fill="#0000ff" stroke="#000090" stroke-width="0.4"/>
<polygon points="562.3,530 559.77,531.25 559.95,534.07 557.6,532.5 555.25,534.07 555.43,531.25 552.9,530 555.43,528.75 555.25,525.93 557.6,527.5 559.95,525.93 559.77,528.75" fill="#0000ff" stroke="#000090" stroke-width="0.4"/>
<polygon points="580.3,529.4 577.77,530.65 577.95,533.47 575.6,531.9 573.25,533.47 573.43,530.65 570.9,529.4 573.43,528.15 573.25,525.33 575.6,526.9 577.95,525.33 577.77,528.15" fill="#0000ff" stroke="#000090" stroke-width="0.4"/>
<polygon points="598.3,572.6 595.77,573.85 595.95,576.67 593.6,575.1 591.25,576.67 591.43,573.85 588.9,572.6 591.43,571.35 591.25,568.53 593.6,570.1 595.95,568.53 595.77,571.35" fill="#0000ff" stroke="#000090" stroke-width="0.4"/>
<polygon points="616.3,539.6 613.77,540.85 613.95,543.67 611.6,542.1 609.25,543.67 609.43,540.85 606.9,539.6 609.43,538.35 609.25,535.53 611.6,537.1 613.95,535.53 613.77,538.35" fill="#0000ff" stroke="#000090" stroke-width="0.4"/>
<polygon points="634.3,535.4 631.77,536.65 631.95,539.47 629.6,537.9 627.25,539.47 627.43,536.65 624.9,535.4 627.43,534.15 627.25,531.33 629.6,532.9 631.95,531.33 631.77,534.15" fill="#0000ff" stroke="#000090" stroke-width="0.4"/>
<polygon points="652.3,540.4 649.77,541.65 649.95,544.47 647.6,542.9 645.25,544.47 645.43,541.65 642.9,540.4 645.43,539.15 645.25,536.33 647.6,537.9 649.95,536.33 649.77,539.15" fill="#0000ff" stroke="#000090" stroke-width="0.4"/>
<polygon points="696.3,497 693.77,498.25 693.95,501.07 691.6,499.5 689.25,501.07 689.43,498.25 686.9,497 689.43,495.75 689.25,492.93 691.6,494.5 693.95,492.93 693.77,495.75" fill="#0000ff" stroke="#000090" stroke-width="0.4"/>
<polygon points="714.3,563.4 711.77,564.65 711.95,567.47 709.6,565.9 707.25,567.47 707.43,564.65 704.9,563.4 707.43,562.15 707.25,559.33 709.6,560.9 711.95,559.33 711.77,562.15" fill="#0000ff" stroke="#000090" stroke-width="0.4"/>
<polygon points="732.3,567 729.77,568.25 729.95,571.07 727.6,569.5 725.25,571.07 725.43,568.25 722.9,567 725.43,565.75 725.25,562.93 727.6,564.5 729.95,562.93 729.77,565.75" fill="#0000ff" stroke="#000090" stroke-width="0.4"/>
<polygon points="750.3,560 747.77,561.25 747.95,564.07 745.6,562.5 743.25,564.07 743.43,561.25 740.9,560 743.43,558.75 743.25,555.93 745.6,557.5 747.95,555.93 747.77,558.75" fill="#0000ff" stroke="#000090" stroke-width="0.4"/>
<polygon points="768.3,560 765.77,561.25 765.95,564.07 763.6,562.5 761.25,564.07 761.43,561.25 758.9,560 761.43,558.75 761.25,555.93 763.6,557.5 765.95,555.93 765.77,558.75" fill="#0000ff" stroke="#000090" stroke-width="0.4"/>
<polygon points="786.3,512 783.77,513.25 783.95,516.07 781.6,514.5 779.25,516.07 779.43,513.25 776.9,512 779.43,510.75 779.25,507.93 781.6,509.5 783.95,507.93 783.77,510.75" fill="#0000ff" stroke="#000090" stroke-width="0.4"/>
<polygon points="804.3,557.6 801.77,558.85 801.95,561.67 799.6,560.1 797.25,561.67 797.43,558.85 794.9,557.6 797.43,556.35 797.25,553.53 799.6,555.1 801.95,553.53 801.77,556.35" fill="#0000ff" stroke="#000090" stroke-width="0.4"/>
<polygon points="822.3,505 819.77,506.25 819.95,509.07 817.6,507.5 815.25,509.07 815.43,506.25 812.9,505 815.43,503.75 815.25,500.93 817.6,502.5 819.95,500.93 819.77,503.75" fill="#0000ff" stroke="#000090" stroke-width="0.4"/>
<polygon points="840.3,526.6 837.77,527.85 837.95,530.67 835.6,529.1 833.25,530.67 833.43,527.85 830.9,526.6 833.43,525.35 833.25,522.53 835.6,524.1 837.95,522.53 837.77,525.35" fill="#0000ff" stroke="#000090" stroke-width="0.4"/>
<polygon points="858.3,538.6 855.77,539.85 855.95,542.67 853.6,541.1 851.25,542.67 851.43,539.85 848.9,538.6 851.43,537.35 851.25,534.53 853.6,536.1 855.95,534.53 855.77,537.35" fill="#0000ff" stroke="#000090" stroke-width="0.4"/>
<polygon points="876.3,511.4 873.77,512.65 873.95,515.47 871.6,513.9 869.25,515.47 869.43,512.65 866.9,511.4 869.43,510.15 869.25,507.33 871.6,508.9 873.95,507.33 873.77,510.15" fill="#0000ff" stroke="#000090" stroke-width="0.4"/>
<polygon points="894.3,501.4 891.77,502.65 891.95,505.47 889.6,503.9 887.25,505.47 887.43,502.65 884.9,501.4 887.43,500.15 887.25,497.33 889.6,498.9 891.95,497.33 891.77,500.15" fill="#0000ff" stroke="#000090" stroke-width="0.4"/>
<polygon points="912.7,554.4 910.17,555.65 910.35,558.47 908,556.9 905.65,558.47 905.83,555.65 903.3,554.4 905.83,553.15 905.65,550.33 908,551.9 910.35,550.33 910.17,553.15" fill="#0000ff" stroke="#000090" stroke-width="0.4"/>
<polygon points="930.7,516.4 928.17,517.65 928.35,520.47 926,518.9 923.65,520.47 923.83,517.65 921.3,516.4 923.83,515.15 923.65,512.33 926,513.9 928.35,512.33 928.17,515.15" fill="#0000ff" stroke="#000090" stroke-width="0.4"/>
<polygon points="948.3,543.4 945.77,544.65 945.95,547.47 943.6,545.9 941.25,547.47 941.43,544.65 938.9,543.4 941.43,542.15 941.25,539.33 943.6,540.9 945.95,539.33 945.77,542.15" fill="#0000ff" stroke="#000090" stroke-width="0.4"/>
<polygon points="985.9,476.4 983.37,477.65 983.55,480.47 981.2,478.9 978.85,480.47 979.03,477.65 976.5,476.4 979.03,475.15 978.85,472.33 981.2,473.9 983.55,472.33 983.37,475.15" fill="#0000ff" stroke="#000090" stroke-width="0.4"/>
<polygon points="1004.1,470 1001.57,471.25 1001.75,474.07 999.4,472.5 997.05,474.07 997.23,471.25 994.7,470 997.23,468.75 997.05,465.93 999.4,467.5 1001.75,465.93 1001.57,468.75" fill="#0000ff" stroke="#000090" stroke-width="0.4"/>
<polygon points="1022.1,487 1019.57,488.25 1019.75,491.07 1017.4,489.5 1015.05,491.07 1015.23,488.25 1012.7,487 1015.23,485.75 1015.05,482.93 1017.4,484.5 1019.75,482.93 1019.57,485.75" fill="#0000ff" stroke="#000090" stroke-width="0.4"/>
<polygon points="1040.1,519 1037.57,520.25 1037.75,523.07 1035.4,521.5 1033.05,523.07 1033.23,520.25 1030.7,519 1033.23,517.75 1033.05,514.93 1035.4,516.5 1037.75,514.93 1037.57,517.75" fill="#0000ff" stroke="#000090" stroke-width="0.4"/>
<polygon points="1058.1,495.6 1055.57,496.85 1055.75,499.67 1053.4,498.1 1051.05,499.67 1051.23,496.85 1048.7,495.6 1051.23,494.35 1051.05,491.53 1053.4,493.1 1055.75,491.53 1055.57,494.35" fill="#0000ff" stroke="#000090" stroke-width="0.4"/>
<polygon points="1076.3,506.6 1073.77,507.85 1073.95,510.67 1071.6,509.1 1069.25,510.67 1069.43,507.85 1066.9,506.6 1069.43,505.35 1069.25,502.53 1071.6,504.1 1073.95,502.53 1073.77,505.35" fill="#0000ff" stroke="#000090" stroke-width="0.4"/>
<polygon points="1094.3,537.6 1091.77,538.85 1091.95,541.67 1089.6,540.1 1087.25,541.67 1087.43,538.85 1084.9,537.6 1087.43,536.35 1087.25,533.53 1089.6,535.1 1091.95,533.53 1091.77,536.35" fill="#0000ff" stroke="#000090" stroke-width="0.4"/>
<polygon points="1112.3,530 1109.77,531.25 1109.95,534.07 1107.6,532.5 1105.25,534.07 1105.43,531.25 1102.9,530 1105.43,528.75 1105.25,525.93 1107.6,527.5 1109.95,525.93 1109.77,528.75" fill="#0000ff" stroke="#000090" stroke-width="0.4"/>
<polygon points="1130.3,522.6 1127.77,523.85 1127.95,526.67 1125.6,525.1 1123.25,526.67 1123.43,523.85 1120.9,522.6 1123.43,521.35 1123.25,518.53 1125.6,520.1 1127.95,518.53 1127.77,521.35" fill="#0000ff" stroke="#000090" stroke-width="0.4"/>
<polygon points="1148.3,554 1145.77,555.25 1145.95,558.07 1143.6,556.5 1141.25,558.07 1141.43,555.25 1138.9,554 1141.43,552.75 1141.25,549.93 1143.6,551.5 1145.95,549.93 1145.77,552.75" fill="#0000ff" stroke="#000090" stroke-width="0.4"/>
<polygon points="1166.3,526.4 1163.77,527.65 1163.95,530.47 1161.6,528.9 1159.25,530.47 1159.43,527.65 1156.9,526.4 1159.43,525.15 1159.25,522.33 1161.6,523.9 1163.95,522.33 1163.77,525.15" fill="#0000ff" stroke="#000090" stroke-width="0.4"/>
<polygon points="1184.3,535.4 1181.77,536.65 1181.95,539.47 1179.6,537.9 1177.25,539.47 1177.43,536.65 1174.9,535.4 1177.43,534.15 1177.25,531.33 1179.6,532.9 1181.95,531.33 1181.77,534.15" fill="#0000ff" stroke="#000090" stroke-width="0.4"/>
<polygon points="1202.3,490 1199.77,491.25 1199.95,494.07 1197.6,492.5 1195.25,494.07 1195.43,491.25 1192.9,490 1195.43,488.75 1195.25,485.93 1197.6,487.5 1199.95,485.93 1199.77,488.75" fill="#0000ff" stroke="#000090" stroke-width="0.4"/>
</svg>
</body></html>
